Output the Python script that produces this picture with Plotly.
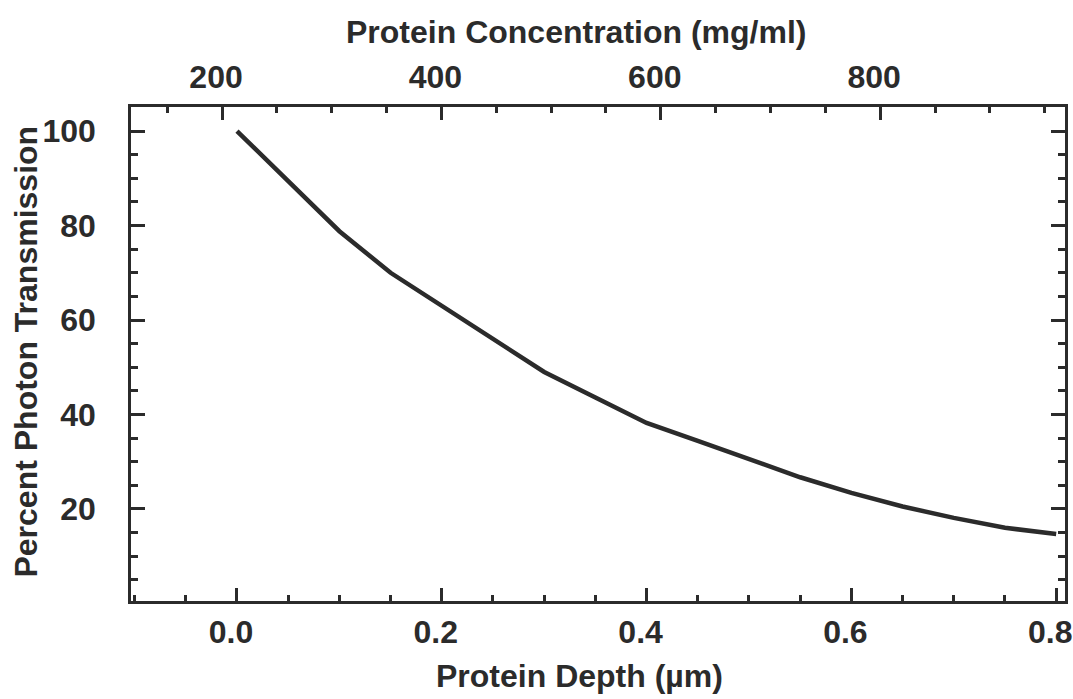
import plotly.graph_objects as go

# curve
depth_um = [0.00, 0.05, 0.10, 0.15, 0.20, 0.25, 0.30, 0.35, 0.40,
            0.45, 0.50, 0.55, 0.60, 0.65, 0.70, 0.75, 0.80]
transmission_pct = [100.0, 89.3, 78.8, 70.0, 63.0, 56.2, 49.0, 43.6, 38.2,
                    34.4, 30.6, 26.7, 23.4, 20.5, 18.1, 16.0, 14.7]

depth_ticks = [0.0, 0.2, 0.4, 0.6, 0.8]
depth_labels = ["0.0", "0.2", "0.4", "0.6", "0.8"]
conc_ticks = [200, 400, 600, 800]
pct_ticks = [20, 40, 60, 80, 100]

INK = "#2b2b2b"
FONT = "Liberation Sans, Arial, Helvetica, sans-serif"
TICK_FONT = dict(family=FONT, size=32, color=INK, weight="bold")
TITLE_FONT = dict(family=FONT, size=32, color=INK, weight="bold")

fig = go.Figure()

fig.add_trace(go.Scatter(
    x=depth_um, y=transmission_pct,
    mode="lines",
    line=dict(color=INK, width=4.5),
    showlegend=False,
    hoverinfo="skip",
))

# invisible trace so the top (concentration) axis gets drawn
fig.add_trace(go.Scatter(
    x=conc_ticks, y=[None] * len(conc_ticks),
    xaxis="x2", yaxis="y",
    mode="lines", showlegend=False, hoverinfo="skip",
))

axis_common = dict(
    showline=True, linecolor=INK, linewidth=2.5,
    ticks="inside", tickcolor=INK, tickwidth=2.5,
    showgrid=False, zeroline=False, automargin=False,
    ticklabeloverflow="allow",
    tickfont=TICK_FONT,
)

fig.update_layout(
    width=1073, height=699,
    margin=dict(l=131, r=8, t=107, b=98),
    paper_bgcolor="white",
    plot_bgcolor="white",
    font=dict(family=FONT, color=INK),
    xaxis=dict(
        **axis_common,
        range=[-0.1035, 0.8086],
        tickvals=depth_ticks, ticktext=depth_labels,
        ticklen=13, ticklabelstandoff=1, ticklabelshift=-6,
        minor=dict(ticks="inside", dtick=0.05, tick0=0, ticklen=6,
                   tickcolor=INK, tickwidth=2.5),
    ),
    xaxis2=dict(
        **axis_common,
        overlaying="x", side="top", anchor="y",
        range=[117, 968.5],
        tickvals=conc_ticks,
        ticklen=13, ticklabelstandoff=3, ticklabelshift=-6,
        minor=dict(ticks="inside", dtick=50, tick0=0, ticklen=6,
                   tickcolor=INK, tickwidth=2.5),
    ),
    yaxis=dict(
        **axis_common,
        mirror="ticks",
        range=[0.5, 105.1],
        tickvals=pct_ticks,
        ticklen=14, ticklabelstandoff=26,
        minor=dict(ticks="inside", dtick=5, tick0=0, ticklen=7,
                   tickcolor=INK, tickwidth=2.5),
    ),
    annotations=[
        dict(text="Protein Depth (\u00b5m)", xref="paper", yref="paper",
             x=0.4807, y=0, yshift=-75, xanchor="center", yanchor="middle",
             showarrow=False, font=TITLE_FONT),
        dict(text="Protein Concentration (mg/ml)", xref="paper", yref="paper",
             x=0.4764, y=1, yshift=75, xanchor="center", yanchor="middle",
             showarrow=False, font=TITLE_FONT),
        dict(text="Percent Photon Transmission", xref="paper", yref="paper",
             x=0, xshift=-105, y=0.505, textangle=-90,
             xanchor="center", yanchor="middle",
             showarrow=False, font=TITLE_FONT),
    ],
)

# the page's default body margin would shift the figure by 8px
fig.write_html("out.html", config={"displayModeBar": False},
               post_script="document.body.style.margin='0';")
